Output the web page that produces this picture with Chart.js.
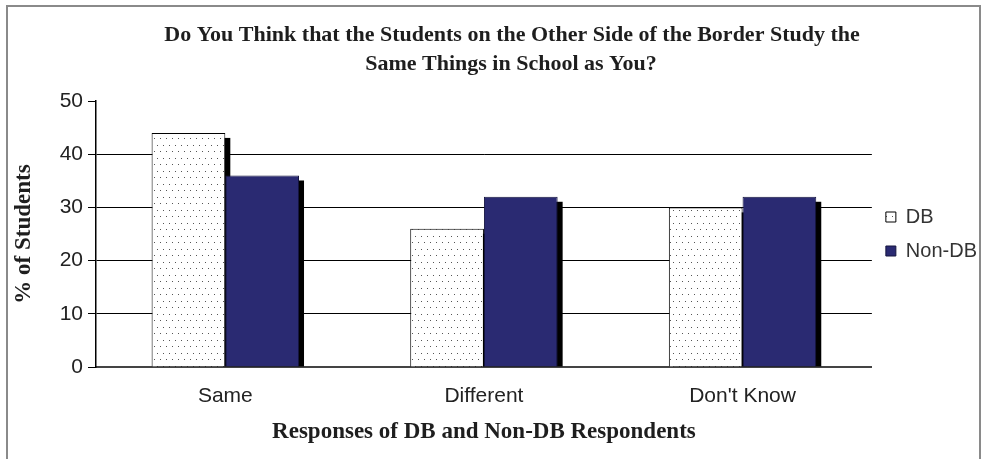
<!DOCTYPE html>
<html>
<head>
<meta charset="utf-8">
<script src="https://cdn.jsdelivr.net/npm/chart.js@4.4.1/dist/chart.umd.min.js"></script>
<style>
  body { margin: 0; background: #fff; }
  .chart-box { position: relative; width: 987px; height: 459px; }
</style>
</head>
<body>
<div class="chart-box">
  <canvas id="responsesChart"></canvas>
</div>
<script>
// values
const categories = ["Same", "Different", "Don't Know"];
const dbValues = [44, 26, 30];
const nonDbValues = [36, 32, 32];
const yTicks = [0, 10, 20, 30, 40, 50];
const titleLines = [
  "Do You Think that the Students on the Other Side of the Border Study the",
  "Same Things in School as You?",
];

// dotted fill for the DB bars
function makeDotPattern() {
  const c = document.createElement("canvas");
  c.width = 12;
  c.height = 13;
  const g = c.getContext("2d");
  g.fillStyle = "#fff";
  g.fillRect(0, 0, 12, 13);
  g.fillStyle = "#555";
  [[1, 2], [7, 2], [4, 8], [10, 8]].forEach(([x, y]) => g.fillRect(x, y, 1, 1));
  return g.createPattern(c, "repeat");
}

// grey frame round the whole picture
const framePlugin = {
  id: "frame",
  beforeDraw(chart) {
    const ctx = chart.ctx;
    ctx.save();
    ctx.fillStyle = "#fff";
    ctx.fillRect(0, 0, chart.width, chart.height);
    ctx.strokeStyle = "#8a8a8a";
    ctx.lineWidth = 2;
    ctx.strokeRect(7, 6, 973, 480);
    ctx.restore();
  },
};

// two-line title, centred a bit right of the canvas middle like the original
const titlePlugin = {
  id: "twoLineTitle",
  afterDraw(chart) {
    const ctx = chart.ctx;
    ctx.save();
    ctx.font = "bold 22px 'Liberation Serif', 'Times New Roman', serif";
    ctx.fillStyle = "#1e1e1e";
    ctx.textAlign = "center";
    ctx.textBaseline = "alphabetic";
    ctx.fillText(titleLines[0], 512, 41);
    ctx.fillText(titleLines[1], 511, 70);
    ctx.restore();
  },
};

// black drop shadow behind each bar
const shadowPlugin = {
  id: "barShadow",
  beforeDatasetsDraw(chart) {
    const ctx = chart.ctx;
    const area = chart.chartArea;
    ctx.save();
    ctx.beginPath();
    ctx.rect(area.left, area.top - 10, area.right - area.left + 10, area.bottom - area.top + 10);
    ctx.clip();
    ctx.fillStyle = "#000";
    chart.data.datasets.forEach((ds, i) => {
      chart.getDatasetMeta(i).data.forEach((bar) => {
        const { x, y, width, base } = bar.getProps(["x", "y", "width", "base"], true);
        ctx.fillRect(x - width / 2 + 5, y + 5, width, base - y - 5);
      });
    });
    ctx.restore();
  },
};

const sansFont = "'Liberation Sans', Arial, sans-serif";
const serifFont = "'Liberation Serif', 'Times New Roman', serif";

new Chart(document.getElementById("responsesChart"), {
  type: "bar",
  data: {
    labels: categories,
    datasets: [
      {
        label: "DB",
        data: dbValues,
        backgroundColor: makeDotPattern(),
        borderColor: "#000",
        borderWidth: 1,
      },
      {
        label: "Non-DB",
        data: nonDbValues,
        backgroundColor: "#2a2a72",
        borderColor: "#15153f",
        borderWidth: 1,
      },
    ],
  },
  options: {
    responsive: true,
    maintainAspectRatio: false,
    animation: false,
    devicePixelRatio: 1,
    layout: { padding: { top: 101, left: 7, right: 0, bottom: 6 } },
    datasets: {
      bar: { categoryPercentage: 0.57, barPercentage: 1 },
    },
    plugins: {
      title: { display: false },
      tooltip: { enabled: false },
      legend: {
        position: "right",
        align: "center",
        fullSize: false,
        labels: {
          boxWidth: 10,
          boxHeight: 10,
          padding: 14,
          color: "#333",
          font: { family: sansFont, size: 20 },
        },
      },
    },
    scales: {
      x: {
        grid: { display: false, drawTicks: false },
        border: { display: true, color: "#444", width: 2 },
        ticks: { color: "#222", padding: 17, font: { family: sansFont, size: 21 } },
        title: {
          display: true,
          text: "Responses of DB and Non-DB Respondents",
          color: "#1e1e1e",
          font: { family: serifFont, size: 23, weight: "bold" },
          padding: { top: 0, bottom: 7 },
        },
        afterFit: (scale) => {
          scale.height = 86;
        },
      },
      y: {
        min: yTicks[0],
        max: yTicks[yTicks.length - 1],
        ticks: {
          stepSize: yTicks[1] - yTicks[0],
          color: "#222",
          padding: 5,
          font: { family: sansFont, size: 21 },
        },
        grid: {
          color: (c) => (c.tick && c.tick.value === yTicks[yTicks.length - 1] ? "rgba(0,0,0,0)" : "#000"),
          tickColor: "#000",
          tickLength: 8,
          lineWidth: 1,
        },
        border: { display: true, color: "#000", width: 1.5 },
        title: {
          display: true,
          text: "% of Students",
          color: "#1e1e1e",
          font: { family: serifFont, size: 23, weight: "bold" },
          padding: { top: 3, bottom: 23 },
        },
        afterFit: (scale) => {
          scale.width = 89;
        },
      },
    },
  },
  plugins: [framePlugin, titlePlugin, shadowPlugin],
});
</script>
</body>
</html>
